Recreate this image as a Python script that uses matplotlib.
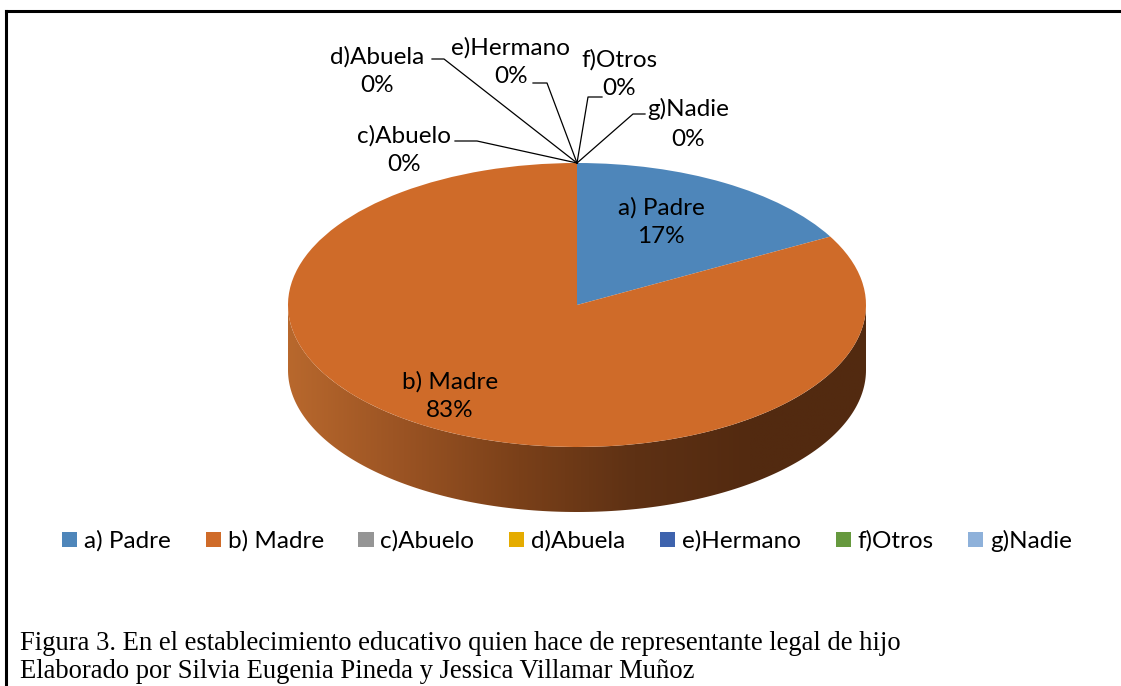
import numpy as np
import matplotlib

matplotlib.use("Agg")
import matplotlib.pyplot as plt
from matplotlib.colors import LinearSegmentedColormap
from matplotlib.patches import Polygon

# ---------------------------------------------------------------- data
categories = ["a) Padre", "b) Madre", "c)Abuelo", "d)Abuela", "e)Hermano", "f)Otros", "g)Nadie"]
percent = [17, 83, 0, 0, 0, 0, 0]
colors = ["#4E86BA", "#CF6B29", "#959595", "#E5AC00", "#3E63AD", "#66993E", "#8EB1DA"]
side_colors = ["#B8682D", "#9A5323", "#7A4019", "#5E3114", "#532A10", "#522A10"]
caption = ["Figura 3. En el establecimiento educativo quien hace de representante legal de hijo",
           "Elaborado por Silvia Eugenia Pineda y Jessica Villamar Muñoz"]

# ---------------------------------------------------------------- layout (pixels)
W, H = 1121, 686
CX, CY, RX, RY, DEPTH = 577, 305, 289, 142, 65
FONT = "Lato"
FS = 17.5
LS = 1.48
# label centre and leader elbow (x_near_text, x_elbow, y) for the small slices
outer_pos = {"c)Abuelo": ((404, 150), (455, 477, 141)),
             "d)Abuela": ((377, 71), (432, 444, 59)),
             "e)Hermano": ((511, 62), (533, 547, 83)),
             "f)Otros": ((619, 74), (602, 588, 97)),
             "g)Nadie": ((688, 124), (645, 633, 114))}
inner_pos = {"a) Padre": (661, 222), "b) Madre": (450, 396)}

fig = plt.figure(figsize=(W / 100, H / 100), dpi=100)

# pie axes: x -1..1 spans the ellipse width, y reaches down by the extrusion depth
d = DEPTH / RY
pie_h = (2 + d) * RY
pax = fig.add_axes([(CX - RX) / W, 1 - (CY - RY + pie_h) / H, 2 * RX / W, pie_h / H])
wedges, _ = pax.pie(percent, colors=colors, startangle=90, counterclock=False,
                    wedgeprops=dict(linewidth=0, antialiased=True))
for w in wedges:
    w.set_zorder(2)

# extruded side (front half of the disc) with a horizontal shading gradient
t = np.linspace(np.pi, 2 * np.pi, 200)
band = np.concatenate([np.c_[np.cos(t), np.sin(t)], np.c_[np.cos(t[::-1]), np.sin(t[::-1]) - d]])
clip = Polygon(band, closed=True, transform=pax.transData, facecolor="none", edgecolor="none")
pax.add_patch(clip)
cmap = LinearSegmentedColormap.from_list("side", side_colors)
img = pax.imshow(np.linspace(0, 1, 256)[None, :], cmap=cmap, extent=[-1, 1, -1 - d, 0],
                 aspect="auto", zorder=1, interpolation="bilinear")
img.set_clip_path(clip)
pax.set_aspect("auto")
pax.set_xlim(-1, 1)
pax.set_ylim(-1 - d, 1)
pax.axis("off")

# overlay axes in pixel units for labels, legend, caption and frame
ax = fig.add_axes([0, 0, 1, 1])
ax.set_zorder(5)
ax.patch.set_visible(False)
ax.set_xlim(0, W)
ax.set_ylim(H, 0)
ax.axis("off")

# data labels
to_px = pax.transData + ax.transData.inverted()
for w, name, p in zip(wedges, categories, percent):
    txt = f"{name}\n{p}%"
    if name in inner_pos:
        x, y = inner_pos[name]
    else:
        (x, y), (x0, x1, ye) = outer_pos[name]
        ang = np.deg2rad((w.theta1 + w.theta2) / 2)
        tip = to_px.transform((np.cos(ang), np.sin(ang)))
        ax.plot([x0, x1, tip[0]], [ye, ye, tip[1]], color="black", lw=0.9, zorder=3)
    ax.text(x, y, txt, ha="center", va="center", fontsize=FS, family=FONT,
            linespacing=LS, color="black", zorder=4)

# legend
ax.legend(wedges, categories, loc="center", bbox_to_anchor=(0.506, 1 - 541 / H), ncol=7,
          frameon=False, prop=dict(family=FONT, size=FS), handlelength=0.62,
          handleheight=0.62, handletextpad=0.28, columnspacing=1.43, borderpad=0)

# caption
for i, line in enumerate(caption):
    ax.text(20, 644 + 28 * i, line, ha="left", va="center", fontsize=19.2,
            family="Liberation Serif", color="black")

# frame (top and left edges of the chart box)
ax.plot([5.5, W], [10.5, 10.5], color="black", lw=2.2, solid_capstyle="projecting")
ax.plot([5.5, 5.5], [10.5, H], color="black", lw=2.2, solid_capstyle="projecting")

fig.savefig("out.png", dpi=100)
